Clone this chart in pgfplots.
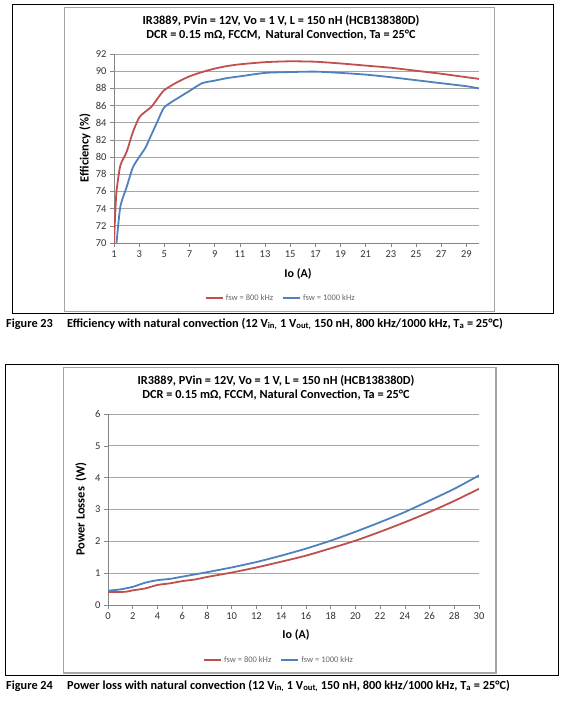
\documentclass[border=0pt]{standalone}
\usepackage{fontspec}
\setmainfont{Carlito}
\usepackage{pgfplots}
\pgfplotsset{compat=1.18}
\definecolor{exred}{HTML}{C0504D}
\definecolor{exblue}{HTML}{4F81BD}
\definecolor{gridgray}{HTML}{A6A6A6}
\definecolor{axgray}{HTML}{868686}
\pgfplotsset{myax/.style={
  scale only axis, axis x line=bottom, axis y line=left,
  axis line style={axgray, -, line width=0.8pt},
  tick align=outside, major tick length=4pt, tick style={axgray, line width=0.6pt},
  ymajorgrids, grid style={gridgray, line width=0.8pt},
  tick label style={font=\fontsize{10.5}{12}\selectfont, text=black!80},
  /pgf/number format/assume math mode=true,
  legend style={draw=none, fill=none, legend columns=2,
    font=\fontsize{8.5}{10}\selectfont\color{black!60}, anchor=center,
    /tikz/every even column/.append style={column sep=7pt}},
  legend image code/.code={\draw[#1, line width=2pt] (0pt,0pt) -- (17pt,0pt);},
  every axis plot/.append style={line width=1.8pt, mark=none, smooth, tension=0.4},
}}
\begin{document}
\begin{tikzpicture}
\useasboundingbox (0,0) rectangle (573pt,-712pt);
% ---------- Figure 23 ----------
\draw[black, line width=1pt] (12pt,-4pt) rectangle (553pt,-313pt);
\draw[gray!70, line width=1pt] (64pt,-7pt) rectangle (494pt,-311pt);
\node[font=\bfseries\fontsize{12.3}{14}\selectfont, align=center] at (281pt,-28pt)
  {IR3889, PVin = 12V, Vo = 1 V, L = 150 nH (HCB138380D)\\DCR = 0.15 mΩ, FCCM,\, Natural Convection, Ta = 25°C};
\begin{axis}[myax, at={(114pt,-243pt)}, anchor=south west,
  width=365pt, height=189pt,
  xmin=1, xmax=30, ymin=70, ymax=92,
  xtick={1,3,...,29}, ytick={70,72,...,92},
  legend style={at={(0.457,-0.291)}}]
\addplot[exred] coordinates {
(1,70) (1.1,73.5) (1.2,76) (1.5,79) (2,80.6) (2.5,82.9) (3,84.6) (3.5,85.3) (4,85.9)
(4.5,86.9) (5,87.8) (6,88.7) (7,89.4) (8,89.9) (9,90.3) (10,90.6) (11,90.8) (13,91.05)
(15,91.15) (17,91.1) (19,90.9) (21,90.65) (23,90.4) (25,90.05) (27,89.7) (29,89.3) (30,89.1)};
\addlegendentry{fsw = 800 kHz}
\addplot[exblue] coordinates {
(1.2,70) (1.5,74.2) (2,76.5) (2.5,78.8) (3,80) (3.5,81.1) (4,82.7) (4.5,84.3) (5,85.8)
(6,86.8) (7,87.7) (8,88.6) (9,88.9) (10,89.2) (11,89.4) (13,89.8) (15,89.9) (17,89.95)
(19,89.8) (21,89.6) (23,89.3) (25,88.95) (27,88.6) (29,88.25) (30,88.0)};
\addlegendentry{fsw = 1000 kHz}
\end{axis}
\node[font=\bfseries\fontsize{12}{14}\selectfont] at (298pt,-274pt) {Io (A)};
\node[font=\bfseries\fontsize{12.5}{14}\selectfont, rotate=90] at (85pt,-148pt) {Efficiency (\%)};
\node[anchor=west, inner sep=0pt, font=\bfseries\fontsize{12.3}{14}\selectfont] at (6pt,-324pt) {Figure 23};
\node[anchor=west, inner sep=0pt, font=\bfseries\fontsize{12.3}{14}\selectfont] at (67pt,-324pt)
  {Efficiency with natural convection (12 V\textsubscript{in,} 1 V\textsubscript{out,} 150 nH, 800 kHz/1000 kHz, T\textsubscript{a} = 25°C)};
% ---------- Figure 24 ----------
\draw[black, line width=1pt] (5pt,-364pt) rectangle (558pt,-675pt);
\draw[gray!70, line width=1pt] (63pt,-367pt) rectangle (496pt,-673pt);
\draw[gray!70, line width=2.5pt] (496pt,-367pt) -- (496pt,-673pt) -- (63pt,-673pt);
\node[font=\bfseries\fontsize{12.3}{14}\selectfont, align=center] at (276pt,-388pt)
  {IR3889, PVin = 12V, Vo = 1 V, L = 150 nH (HCB138380D)\\DCR = 0.15 mΩ, FCCM, Natural Convection, Ta = 25°C};
\begin{axis}[myax, at={(108pt,-605pt)}, anchor=south west,
  width=371pt, height=191pt,
  xmin=0, xmax=30, ymin=0, ymax=6,
  xtick={0,2,...,30}, ytick={0,1,...,6},
  legend style={at={(0.461,-0.288)}}]
\addplot[exred] coordinates {
(0,0.41) (1,0.41) (1.5,0.42) (2,0.46) (3,0.52) (4,0.63) (5,0.68) (6,0.75) (7,0.80)
(8,0.88) (10,1.02) (12,1.18) (14,1.36) (16,1.55) (18,1.78) (20,2.02) (22,2.3)
(24,2.6) (26,2.92) (28,3.27) (30,3.65)};
\addlegendentry{fsw = 800 kHz}
\addplot[exblue] coordinates {
(0,0.45) (1,0.49) (2,0.57) (3,0.70) (4,0.78) (5,0.82) (6,0.89) (7,0.96) (8,1.03)
(10,1.18) (12,1.35) (14,1.55) (16,1.77) (18,2.02) (20,2.30) (22,2.60) (24,2.92)
(26,3.28) (28,3.65) (30,4.07)};
\addlegendentry{fsw = 1000 kHz}
\end{axis}
\node[font=\bfseries\fontsize{12}{14}\selectfont] at (296pt,-635pt) {Io (A)};
\node[font=\bfseries\fontsize{12.5}{14}\selectfont, rotate=90] at (81pt,-509pt) {Power Losses\ \ (W)};
\node[anchor=west, inner sep=0pt, font=\bfseries\fontsize{12.3}{14}\selectfont] at (6pt,-686pt) {Figure 24};
\node[anchor=west, inner sep=0pt, font=\bfseries\fontsize{12.3}{14}\selectfont] at (67pt,-686pt)
  {Power loss with natural convection (12 V\textsubscript{in,} 1 V\textsubscript{out,} 150 nH, 800 kHz/1000 kHz, T\textsubscript{a} = 25°C)};
\end{tikzpicture}
\end{document}
